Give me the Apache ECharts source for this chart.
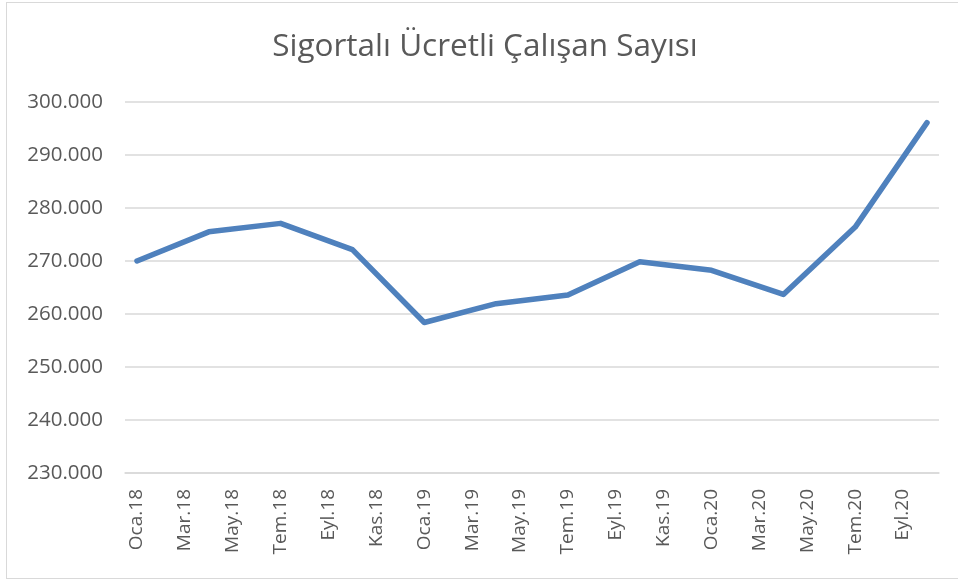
<!DOCTYPE html>
<html>
<head>
<meta charset="utf-8">
<script src="https://cdn.jsdelivr.net/npm/echarts@6/dist/echarts.min.js"></script>
<style>
  html, body { margin: 0; padding: 0; background: #fff; overflow: hidden; }
  .frame {
    position: absolute; left: 6px; top: 2px; width: 1000px; height: 575px;
    border-top: 1px solid #d9d9d9; border-left: 1px solid #d9d9d9; border-bottom: 1px solid #d9d9d9;
  }
  #chart { position: absolute; left: 0; top: 0; width: 958px; height: 580px; }
</style>
</head>
<body>
<div class="frame"></div>
<div id="chart"></div>
<script>
// month categories, Oca.18 .. Eki.20
const monthNames = ['Oca', 'Şub', 'Mar', 'Nis', 'May', 'Haz', 'Tem', 'Ağu', 'Eyl', 'Eki', 'Kas', 'Ara']
const years = ['18', '19', '20']
const monthCount = 34

// quarterly readings (Oca, Nis, Tem, Eki)
const quarterMonths = [0, 3, 6, 9, 12, 15, 18, 21, 24, 27, 30, 33]
const employees = [270000, 275500, 277100, 272150, 258400, 261950, 263600, 269850, 268250, 263700, 276400, 296100]

const categories = []
for (let i = 0; i < monthCount; i++) {
  categories.push(monthNames[i % 12] + '.' + years[Math.floor(i / 12)])
}
const seriesData = categories.map(() => null)
quarterMonths.forEach((m, i) => { seriesData[m] = employees[i] })

const fontFamily = '"Open Sans", "Liberation Sans", sans-serif'
const myChart = echarts.init(document.getElementById('chart'))
myChart.setOption({
  animation: false,
  title: {
    text: 'Sigortalı Ücretli Çalışan Sayısı',
    left: 480,
    textAlign: 'center',
    top: 26,
    textStyle: { fontFamily, fontSize: 31.5, fontWeight: 'normal', color: '#595959' },
  },
  grid: { left: 125, right: 19, top: 102, bottom: 107 },
  xAxis: {
    type: 'category',
    data: categories,
    boundaryGap: true,
    axisLine: { lineStyle: { color: '#d9d9d9', width: 1.5 } },
    axisTick: { interval: 1, length: 7, lineStyle: { color: '#d9d9d9', width: 1.5 } },
    axisLabel: {
      interval: 1,
      rotate: 90,
      margin: 16,
      fontFamily,
      fontSize: 19,
      color: '#595959',
    },
  },
  yAxis: {
    type: 'value',
    min: 230000,
    max: 300000,
    interval: 10000,
    axisLine: { show: false },
    axisTick: { show: false },
    axisLabel: {
      margin: 22,
      fontFamily,
      fontSize: 20.5,
      color: '#595959',
      formatter: v => v.toLocaleString('tr-TR'),
    },
    splitLine: { lineStyle: { color: '#d9d9d9', width: 1.5 } },
  },
  series: [
    {
      type: 'line',
      data: seriesData,
      connectNulls: true,
      showSymbol: false,
      symbol: 'none',
      lineStyle: { color: '#4f81bd', width: 5.5, cap: 'round', join: 'round' },
    },
  ],
})
</script>
</body>
</html>
